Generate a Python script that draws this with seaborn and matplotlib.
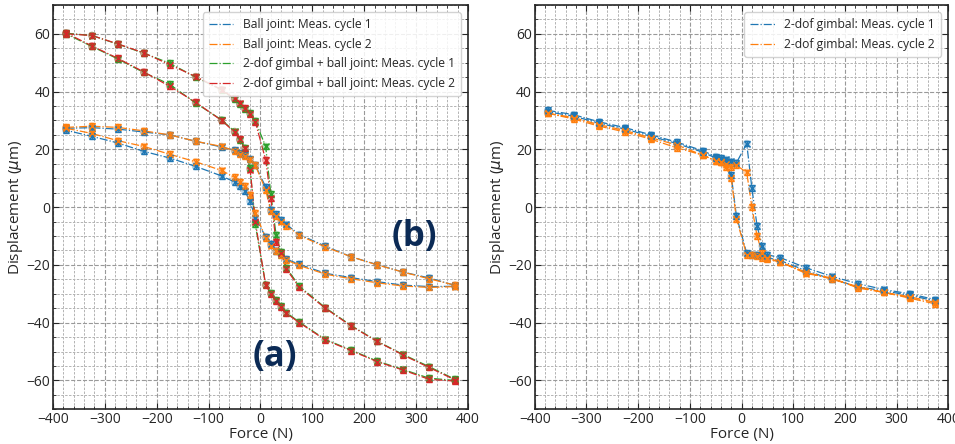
import numpy as np
import pandas as pd
import matplotlib
matplotlib.use("Agg")
import matplotlib.pyplot as plt
from matplotlib.ticker import MultipleLocator
import seaborn as sns

# ---------------------------------------------------
# Data
# ---------------------------------------------------
force_up = [-375, -325, -275, -225, -175, -125, -75, -50, -40, -30, -20, -10,
            10, 20, 30, 40, 50, 75, 125, 175, 225, 275, 325, 375]
force_down = force_up[::-1]
force_path = force_up + force_down

# (b) ball joint
ball_c1_up = [27.3, 27.5, 27.0, 26.0, 25.0, 22.8, 20.8, 19.7, 18.6, 18.0, 16.6, 14.5,
              7.0, -1.0, -2.5, -4.5, -6.0, -9.5, -13.5, -17.2, -19.9, -22.5, -24.5, -27.1]
ball_c1_down = [-27.4, -27.5, -27.0, -25.8, -24.4, -22.9, -19.8, -18.0, -16.4, -15.1, -12.8, -10.2,
                -3.7, 2.0, 5.5, 7.2, 8.7, 10.8, 14.1, 17.0, 19.3, 22.2, 24.5, 26.6]
ball_c2_up = [27.6, 28.0, 27.6, 26.4, 25.0, 22.8, 21.0, 19.5, 18.5, 17.8, 16.5, 14.5,
              6.0, -1.5, -3.0, -5.0, -6.5, -9.8, -13.8, -17.2, -20.0, -22.5, -24.8, -27.0]
ball_c2_down = [-27.5, -27.8, -27.3, -26.2, -24.8, -23.2, -20.2, -18.3, -16.5, -15.3, -13.3, -10.6,
                -2.0, 4.3, 7.3, 8.8, 10.3, 12.7, 15.7, 18.3, 21.0, 23.0, 25.5, 27.3]

# (a) 2-dof gimbal + ball joint
gb_c1_up = [60.2, 59.4, 56.4, 53.3, 49.8, 45.0, 40.6, 37.3, 35.6, 34.0, 32.5, 29.8,
            21.0, 4.5, -9.5, -15.5, -21.0, -27.4, -34.8, -41.0, -46.4, -51.0, -55.2, -59.6]
gb_c1_down = [-60.0, -59.2, -56.2, -53.3, -49.5, -45.8, -39.8, -36.5, -34.3, -32.2, -29.7, -26.8,
              -6.0, 13.6, 20.5, 23.3, 26.2, 30.2, 36.0, 42.5, 46.6, 51.3, 55.6, 60.0]
gb_c2_up = [60.0, 59.4, 56.5, 53.4, 49.3, 45.2, 40.7, 37.6, 35.9, 34.2, 32.3, 29.5,
            16.4, 3.0, -12.0, -16.0, -21.5, -27.8, -35.0, -41.2, -46.5, -51.2, -55.5, -59.8]
gb_c2_down = [-60.2, -59.6, -56.4, -53.5, -49.7, -46.0, -40.0, -36.8, -34.5, -32.5, -30.0, -27.0,
              -5.0, 13.0, 20.3, 23.5, 26.0, 30.0, 36.3, 41.8, 46.8, 51.5, 55.8, 60.3]

# 2-dof gimbal alone
gim_c1_up = [33.5, 32.0, 29.5, 27.5, 25.0, 22.5, 19.5, 17.5, 17.0, 16.5, 15.8, 15.3,
             22.0, 6.5, -6.5, -13.5, -16.5, -17.5, -21.0, -24.0, -26.5, -28.5, -30.0, -32.0]
gim_c1_down = [-32.5, -30.5, -29.0, -27.5, -25.0, -22.0, -18.5, -17.5, -17.0, -16.5, -16.5, -16.0,
               -3.0, 11.0, 15.5, 16.5, 17.0, 19.0, 22.0, 24.5, 27.0, 29.0, 31.5, 33.0]
gim_c2_up = [32.5, 31.0, 28.5, 26.5, 24.0, 21.5, 18.0, 16.0, 15.5, 15.0, 14.0, 14.5,
             12.0, 0.0, -10.0, -16.0, -17.5, -19.0, -22.5, -25.0, -27.5, -29.5, -31.5, -33.5]
gim_c2_down = [-33.0, -31.0, -29.5, -28.0, -24.5, -23.0, -19.0, -18.0, -17.5, -17.0, -16.5, -16.5,
               -4.0, 10.0, 14.0, 15.5, 16.0, 18.0, 20.5, 23.5, 26.0, 28.0, 30.5, 32.5]

meas_err = 1.0

left_series = [
    ("Ball joint: Meas. cycle 1", ball_c1_up + ball_c1_down, "C0"),
    ("Ball joint: Meas. cycle 2", ball_c2_up + ball_c2_down, "C1"),
    ("2-dof gimbal + ball joint: Meas. cycle 1", gb_c1_up + gb_c1_down, "C2"),
    ("2-dof gimbal + ball joint: Meas. cycle 2", gb_c2_up + gb_c2_down, "C3"),
]
right_series = [
    ("2-dof gimbal: Meas. cycle 1", gim_c1_up + gim_c1_down, "C0"),
    ("2-dof gimbal: Meas. cycle 2", gim_c2_up + gim_c2_down, "C1"),
]

# ---------------------------------------------------
# Style
# ---------------------------------------------------
sns.set_style("ticks")
plt.rcParams["font.family"] = ["Open Sans", "DejaVu Sans"]
plt.rcParams["mathtext.fontset"] = "dejavusans"

fig = plt.figure(figsize=(9.55, 4.44), dpi=100)
ax1 = fig.add_axes([0.0555, 0.0780, 0.4345, 0.9110])
ax2 = fig.add_axes([0.5600, 0.0780, 0.4330, 0.9110])


def draw(ax, series):
    for label, vals, color in series:
        df = pd.DataFrame({"Force": force_path, "Disp": vals})
        sns.lineplot(data=df, x="Force", y="Disp", sort=False, estimator=None,
                     color=color, linestyle="-.", linewidth=0.9, label=label, ax=ax)
        ax.scatter(df["Force"], df["Disp"], s=30, color=color, alpha=0.35,
                   edgecolors="none", zorder=3)
        ax.errorbar(df["Force"], df["Disp"], yerr=meas_err, fmt="x", color=color,
                    ms=4, mew=1.0, elinewidth=1.0, capsize=2.5, zorder=4)

    ax.set_xlim(-400, 400)
    ax.set_ylim(-70, 70)
    ax.xaxis.set_major_locator(MultipleLocator(100))
    ax.xaxis.set_minor_locator(MultipleLocator(20))
    ax.yaxis.set_major_locator(MultipleLocator(20))
    ax.yaxis.set_minor_locator(MultipleLocator(5))
    ax.grid(which="major", color="0.6", linestyle="--", linewidth=0.8)
    ax.grid(which="minor", color="0.7", linestyle=(0, (2.5, 1.5)), linewidth=0.7)
    ax.set_axisbelow(True)
    ax.tick_params(which="both", direction="in", top=True, right=True, labelsize=10,
                   pad=2)
    ax.tick_params(which="major", length=4)
    ax.tick_params(which="minor", length=2)
    ax.set_xlabel("Force (N)", fontsize=11, labelpad=0)
    ax.set_ylabel(r"Displacement ($\mu$m)", fontsize=11, labelpad=1)
    for sp in ax.spines.values():
        sp.set_linewidth(1.2)
    ax.legend(loc="upper right", fontsize=8.7, framealpha=0.85, handlelength=2.0,
              borderpad=0.5, labelspacing=0.55, borderaxespad=0.6)


draw(ax1, left_series)
draw(ax2, right_series)

ax1.text(28, -52, "(a)", fontsize=25, fontweight="bold", color="#0b2a55",
         ha="center", va="center")
ax1.text(297, -10.5, "(b)", fontsize=25, fontweight="bold", color="#0b2a55",
         ha="center", va="center")

fig.savefig("out.png", dpi=100)
